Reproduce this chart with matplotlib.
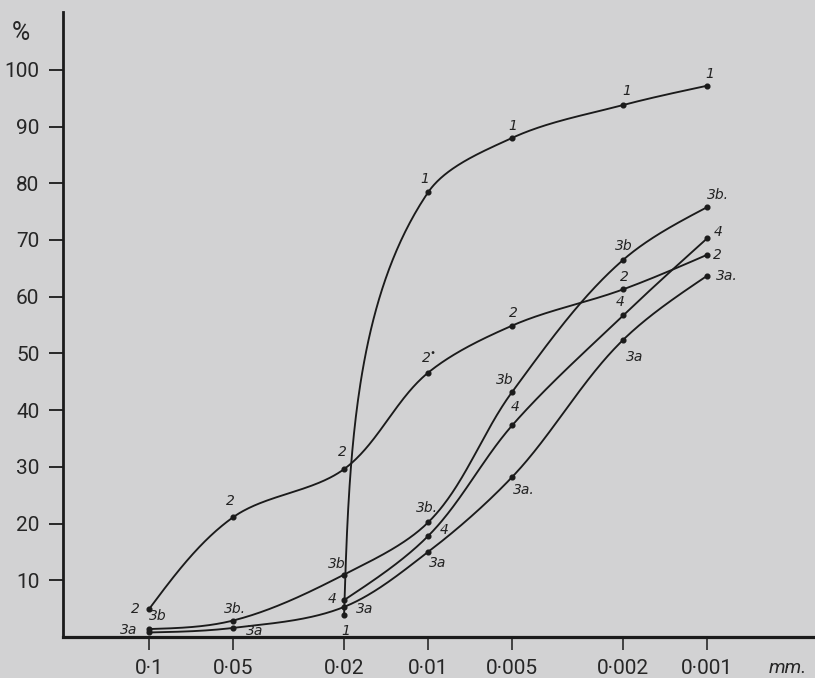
import numpy as np
import matplotlib
matplotlib.use("Agg")
import matplotlib.pyplot as plt
from matplotlib.ticker import NullLocator, FixedLocator, FixedFormatter

# ---------------- data ----------------
sizes = [0.1, 0.05, 0.02, 0.01, 0.005, 0.002, 0.001]
size_labels = ["0·1", "0·05", "0·02", "0·01", "0·005", "0·002", "0·001"]
y_ticks = [10, 20, 30, 40, 50, 60, 70, 80, 90, 100]

nan = np.nan
s1 = [nan, nan, 3.8, 78.4, 88.0, 93.8, 97.2]
s2 = [4.9, 21.1, 29.6, 46.6, 54.9, 61.3, 67.4]
s3b = [1.4, 2.9, 11.0, 20.2, 43.2, 66.5, 75.8]
s4 = [nan, nan, 6.5, 17.8, 37.3, 56.7, 70.3]
s3a = [0.8, 1.6, 5.3, 15.0, 28.2, 52.4, 63.7]

lab1 = ["", "", "1", "1", "1", "1", "1"]
lab2 = ["2", "2", "2", "2$^{\\bullet}$", "2", "2", "2"]
lab3b = ["3b", "3b.", "3b", "3b.", "3b", "3b", "3b."]
lab4 = ["", "", "4", "4", "4", "4", "4"]
lab3a = ["3a", "3a", "3a", "3a", "3a.", "3a", "3a."]

# label offsets in pixels (style)
off1 = [None, None, (2, -16), (-3, 13), (1, 12), (4, 14), (3, 12)]
off2 = [(-14, 0), (-3, 16), (-2, 17), (1, 14), (1, 13), (1, 12), (10, 0)]
off3b = [(9, 13), (2, 12), (-7, 11), (-1, 14), (-7, 12), (1, 14), (11, 12)]
off4 = [None, None, (-12, 1), (16, 6), (3, 18), (-3, 13), (11, 6)]
off3a = [(-20, 2), (22, -3), (21, -2), (10, -11), (12, -13), (11, -17), (20, 0)]

# ---------------- figure ----------------
BG = "#d2d2d3"
INK = "#1b1b1b"
TXT = "#262626"
fig = plt.figure(figsize=(8.15, 6.78), dpi=100, facecolor=BG)
ax = fig.add_axes([63 / 815, 41 / 678, (815 - 63) / 815, (637 - 12) / 678])
ax.set_facecolor(BG)
ax.set_xscale("log")
ax.set_xlim(0.2032, 0.000411)
ax.set_ylim(0, 110.2)

for side in ("top", "right"):
    ax.spines[side].set_visible(False)
ax.spines["left"].set_linewidth(2.0)
ax.spines["bottom"].set_linewidth(2.3)
ax.spines["left"].set_color(INK)
ax.spines["bottom"].set_color(INK)

tick_font = ["Roboto", "DejaVu Sans"]
ax.xaxis.set_major_locator(FixedLocator(sizes))
ax.xaxis.set_major_formatter(FixedFormatter(size_labels))
ax.xaxis.set_minor_locator(NullLocator())
ax.yaxis.set_major_locator(FixedLocator(y_ticks))
ax.yaxis.set_major_formatter(FixedFormatter([str(v) for v in y_ticks]))
ax.tick_params(axis="x", direction="out", length=9, width=1.1, pad=7,
               labelsize=15, colors=INK)
ax.tick_params(axis="y", direction="out", length=10, width=1.3, pad=7,
               labelsize=15, colors=INK)
for t in ax.get_xticklabels() + ax.get_yticklabels():
    t.set_family(tick_font)
    t.set_color(TXT)

fig.text(21 / 815, 1 - 33 / 678, "%", ha="center", va="center",
         fontsize=18, family=tick_font, color=TXT)
fig.text(788 / 815, 1 - 668 / 678, "mm.", ha="center", va="center",
         fontsize=14, family=tick_font, color=TXT, style="italic")

fig.canvas.draw()


def smooth_curve(xs, ys, n=80):
    """Chord-length Hermite spline through the points, computed in display space."""
    xs = np.asarray(xs, float)
    ys = np.asarray(ys, float)
    ok = ~np.isnan(ys)
    pts = ax.transData.transform(np.column_stack([xs[ok], ys[ok]]))
    d = np.diff(pts, axis=0)
    h = np.hypot(d[:, 0], d[:, 1])
    u = d / h[:, None]
    N = len(pts)
    D = np.zeros_like(pts)
    for i in range(1, N - 1):
        D[i] = 0.5 * (u[i - 1] + u[i])
    D[0] = (3 * u[0] - D[1]) / 2
    D[-1] = (3 * u[-1] - D[-2]) / 2
    out = []
    t = np.linspace(0, 1, n)[:, None]
    h00 = 2 * t**3 - 3 * t**2 + 1
    h10 = t**3 - 2 * t**2 + t
    h01 = -2 * t**3 + 3 * t**2
    h11 = t**3 - t**2
    for i in range(N - 1):
        seg = (h00 * pts[i] + h10 * h[i] * D[i] + h01 * pts[i + 1]
               + h11 * h[i] * D[i + 1])
        out.append(seg if i == 0 else seg[1:])
    out = np.vstack(out)
    data = ax.transData.inverted().transform(out)
    return data[:, 0], data[:, 1]


series = [
    (s1, lab1, off1),
    (s2, lab2, off2),
    (s3b, lab3b, off3b),
    (s4, lab4, off4),
    (s3a, lab3a, off3a),
]

for vals, labs, offs in series:
    cx, cy = smooth_curve(sizes, vals)
    ax.plot(cx, cy, color=INK, lw=1.35, solid_capstyle="round", zorder=3)
    xs = [x for x, v in zip(sizes, vals) if not np.isnan(v)]
    vs = [v for v in vals if not np.isnan(v)]
    ax.plot(xs, vs, "o", color=INK, ms=3.4, zorder=4)
    for x, v, lab, off in zip(sizes, vals, labs, offs):
        if np.isnan(v) or not lab:
            continue
        ax.annotate(lab, (x, v), xytext=off, textcoords="offset pixels",
                    ha="center", va="center", fontsize=10, color="#222222",
                    family=["DejaVu Sans"], style="italic", zorder=5)

fig.savefig("out.png", dpi=100, facecolor=BG)
